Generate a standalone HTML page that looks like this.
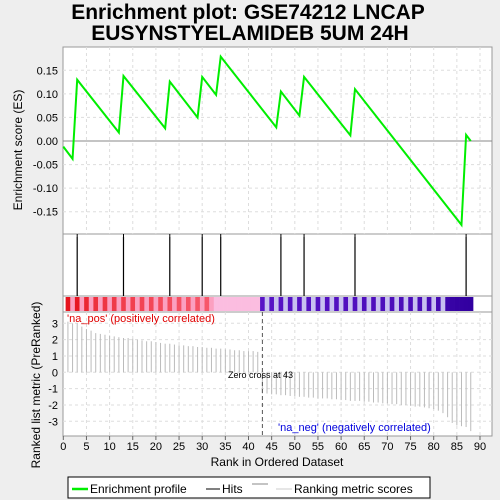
<!DOCTYPE html>
<html><head><meta charset="utf-8"><style>
body{margin:0;background:#eeeeee;font-family:"Liberation Sans","DejaVu Sans",sans-serif;}
svg{display:block}
</style></head><body>
<svg id="c" width="500" height="500" xmlns="http://www.w3.org/2000/svg">
<text x="248" y="19" text-anchor="middle" font-size="21" font-weight="bold">Enrichment plot: GSE74212 LNCAP</text>
<text x="250" y="40" text-anchor="middle" font-size="21" font-weight="bold">EUSYNSTYELAMIDEB 5UM 24H</text>
</svg>
<script>
const esRanks=[0,2,3,12,13,22,23,29,30,33,34,46,47,51,52,62,63,86,87,88];
const esValues=[-0.012,-0.038,0.13,0.018,0.138,0.027,0.126,0.05,0.136,0.098,0.179,0.029,0.105,0.054,0.136,0.012,0.11,-0.178,0.013,0.0];
const hitRanks=[3,13,23,30,34,47,52,63,87];
const metric=[3.1,3.0,3.0,2.8,2.65,2.55,2.4,2.35,2.3,2.25,2.2,2.15,2.1,2.1,2.05,2.0,1.95,1.9,1.9,1.85,1.8,1.75,1.75,1.7,1.65,1.65,1.6,1.6,1.55,1.55,1.5,1.5,1.45,1.45,1.4,1.4,1.35,1.35,1.3,1.3,1.3,1.25,
-1.3,-1.3,-1.35,-1.35,-1.4,-1.4,-1.45,-1.45,-1.5,-1.5,-1.55,-1.55,-1.6,-1.6,-1.6,-1.65,-1.65,-1.7,-1.7,-1.75,-1.75,-1.75,-1.8,-1.8,-1.85,-1.85,-1.9,-1.9,-1.95,-1.95,-2.0,-2.0,-2.05,-2.1,-2.1,-2.15,-2.2,-2.25,-2.35,-2.5,-2.75,-3.1,-3.25,-3.3,-3.35,-3.6];
const esTicks=[0.15,0.10,0.05,0.00,-0.05,-0.10,-0.15];
const metricTicks=[3,2,1,0,-1,-2,-3];
const xTicks=[0,5,10,15,20,25,30,35,40,45,50,55,60,65,70,75,80,85,90];
const zeroCross=43;

const svg=document.getElementById('c');
const NS='http://www.w3.org/2000/svg';
const L=63,R=492;
const X=r=>63.3+r*(480-63.3)/90;
const YE=v=>141-v*(141-70.3)/0.15;
const YM=v=>372.3-v*(372.3-323.3)/3;
function el(t,a,p){const e=document.createElementNS(NS,t);for(const k in a)e.setAttribute(k,a[k]);(p||svg).appendChild(e);return e;}

const esPanel=el('rect',{x:L,y:47,width:R-L,height:187,fill:'#fff',stroke:'#999'});


const hp=el('rect',{x:L,y:234,width:R-L,height:62,fill:'#fff',stroke:'#999'});


const cb=el('rect',{x:L,y:296,width:R-L,height:16,fill:'#fff',stroke:'#999'});


const bp=el('rect',{x:L,y:312,width:R-L,height:124,fill:'#fff',stroke:'#999'});



xTicks.forEach(t=>{if(t>0){
 el('line',{x1:X(t),x2:X(t),y1:47,y2:234,stroke:'#ddd','stroke-dasharray':'3,3'});
 el('line',{x1:X(t),x2:X(t),y1:312,y2:436,stroke:'#ddd','stroke-dasharray':'3,3'});}});
esTicks.forEach(t=>{el('line',{x1:L,x2:R,y1:YE(t),y2:YE(t),stroke:t===0?'#888':'#ddd','stroke-dasharray':t===0?'':'3,3'});
 const tx=el('text',{x:58,y:YE(t)+4,'text-anchor':'end','font-size':11});tx.textContent=t.toFixed(2);
 
 });
metricTicks.forEach(t=>{el('line',{x1:L,x2:R,y1:YM(t),y2:YM(t),stroke:'#ddd','stroke-dasharray':'3,3'});
 const tx=el('text',{x:58,y:YM(t)+4,'text-anchor':'end','font-size':11});tx.textContent=t;
 
 });
xTicks.forEach(t=>{el('line',{x1:X(t),x2:X(t),y1:436,y2:440,stroke:'#666'});
 const tx=el('text',{x:X(t),y:450,'text-anchor':'middle','font-size':11});tx.textContent=t;
 
 });

const pts=esRanks.map((r,i)=>X(r)+','+YE(esValues[i])).join(' ');
const pl=el('polyline',{points:pts,fill:'none',stroke:'#00ee00','stroke-width':2});



hitRanks.forEach(r=>{const h=el('line',{x1:X(r),x2:X(r),y1:237,y2:296,stroke:'#000','stroke-width':1.2});
 
 
 el('line',{x1:X(r),x2:X(r),y1:234,y2:237,stroke:'#000'});});

const step=X(1)-X(0);
metric.forEach((v,i)=>{const r=i+1;
 let col;
 if(v>0){const f=Math.min(1,(v-1.2)/1.9);const light=(i%2)?1:0;
  if(i>31)col='#fbbde0';
  else if(light)col='#fba0c0';
  else col=`rgb(${Math.round(250-f*20)},${Math.round(100-f*80)},${Math.round(120-f*90)})`;}
 else{const f=Math.min(1,(-v-1.2)/2.2);const light=(i%2)?1:0;
  col=light&&f<0.8?'#c8c0f0':`rgb(${Math.round(90-f*40)},${Math.round(20-f*20)},${Math.round(200-f*40)})`;}
 const c=el('rect',{x:X(r)-step/2,y:297,width:step+0.3,height:14,fill:col});
 
 
 const b=el('line',{x1:X(r),x2:X(r),y1:YM(0),y2:YM(v),stroke:'#bbb','stroke-width':1});
 
 });

el('line',{x1:X(zeroCross),x2:X(zeroCross),y1:312,y2:436,stroke:'#555','stroke-dasharray':'4,3'});
function txt(x,y,s,size,fill,name,anchor,rot){const t=el('text',{x:x,y:y,'font-size':size,fill:fill,'text-anchor':anchor||'start'});
 if(rot)t.setAttribute('transform',`rotate(-90 ${x} ${y})`);t.textContent=s;
 
 return t;}
txt(228,378,'Zero cross at 43',9,'#000','zero-cross-label');
txt(67,322,"'na_pos' (positively correlated)",11,'#e00000','positive-label');
txt(278,431,"'na_neg' (negatively correlated)",11,'#0000dd','negative-label');
txt(22,150,'Enrichment score (ES)',12,'#000','es-axis-title','middle',true);
txt(40,385,'Ranked list metric (PreRanked)',12,'#000','metric-axis-title','middle',true);
txt(277,466,'Rank in Ordered Dataset',12,'#000','x-axis-title','middle');

const lg=el('rect',{x:68,y:477,width:362,height:21,fill:'#fff',stroke:'#000'});


el('line',{x1:72,x2:88,y1:489,y2:489,stroke:'#00ee00','stroke-width':2.5});
txt(90,493,'Enrichment profile',12,'#000','legend-entry-enrichment');
el('line',{x1:206,x2:220,y1:489,y2:489,stroke:'#000'});
txt(222,493,'Hits',12,'#000','legend-entry-hits');
el('line',{x1:252,x2:268,y1:484,y2:484,stroke:'#888'});
el('line',{x1:276,x2:292,y1:489,y2:489,stroke:'#ccc'});
txt(294,493,'Ranking metric scores',12,'#000','legend-entry-metric');
</script>
</body></html>
